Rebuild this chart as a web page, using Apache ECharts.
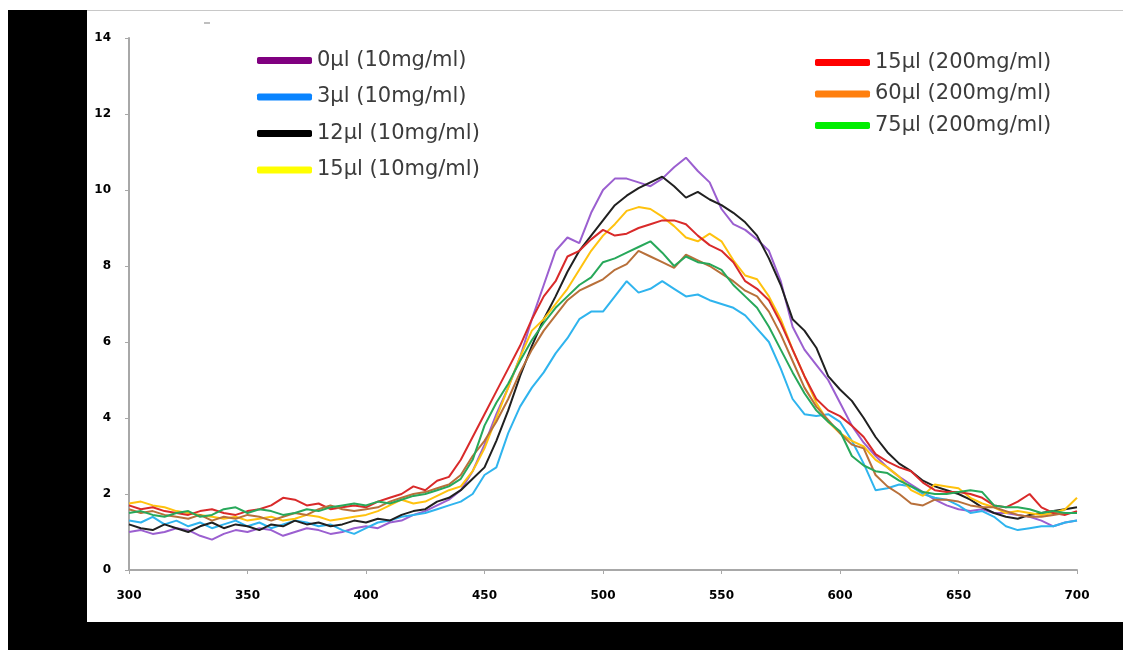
<!DOCTYPE html>
<html>
<head>
<meta charset="utf-8">
<script src="https://cdn.jsdelivr.net/npm/echarts@6/dist/echarts.min.js"></script>
<style>
html,body{margin:0;padding:0;background:#fff;}
#chart{width:1123px;height:650px;}
</style>
</head>
<body>
<div id="chart"></div>
<script>
const wavelengths = [300,305,310,315,320,325,330,335,340,345,350,355,360,365,370,375,380,385,390,395,
400,405,410,415,420,425,430,435,440,445,450,455,460,465,470,475,480,485,490,495,
500,505,510,515,520,525,530,535,540,545,550,555,560,565,570,575,580,585,590,595,
600,605,610,615,620,625,630,635,640,645,650,655,660,665,670,675,680,685,690,695,700];

const xTicks = [300,350,400,450,500,550,600,650,700];
const yTicks = [0,2,4,6,8,10,12,14];

const seriesNames = ['0µl (10mg/ml)','3µl (10mg/ml)','12µl (10mg/ml)','15µl (10mg/ml)','15µl (200mg/ml)','60µl (200mg/ml)','75µl (200mg/ml)'];

const purple0 = [1.0,1.05,0.95,1.0,1.1,1.05,0.9,0.8,0.95,1.05,1.0,1.1,1.05,0.9,1.0,1.1,1.05,0.95,1.0,1.1,
1.15,1.1,1.25,1.3,1.45,1.55,1.7,1.85,2.1,2.6,3.3,4.1,4.8,5.6,6.6,7.5,8.4,8.75,8.6,9.4,
10.0,10.3,10.3,10.2,10.1,10.3,10.6,10.85,10.5,10.2,9.5,9.1,8.95,8.7,8.4,7.6,6.4,5.8,5.4,5.0,
4.4,3.8,3.35,3.0,2.7,2.45,2.25,2.05,1.85,1.7,1.6,1.55,1.6,1.5,1.5,1.45,1.4,1.3,1.15,1.25,1.3];

const blue3 = [1.3,1.25,1.4,1.2,1.3,1.15,1.25,1.1,1.2,1.3,1.15,1.25,1.1,1.2,1.3,1.25,1.15,1.2,1.05,0.95,
1.1,1.25,1.3,1.4,1.45,1.5,1.6,1.7,1.8,2.0,2.5,2.7,3.6,4.3,4.8,5.2,5.7,6.1,6.6,6.8,
6.8,7.2,7.6,7.3,7.4,7.6,7.4,7.2,7.25,7.1,7.0,6.9,6.7,6.35,6.0,5.3,4.5,4.1,4.05,4.1,
3.9,3.4,2.8,2.1,2.15,2.25,2.2,2.0,1.9,1.85,1.7,1.5,1.55,1.4,1.15,1.05,1.1,1.15,1.15,1.25,1.3];

const black12 = [1.2,1.1,1.05,1.2,1.1,1.0,1.15,1.25,1.1,1.2,1.15,1.05,1.2,1.15,1.3,1.2,1.25,1.15,1.2,1.3,
1.25,1.35,1.3,1.45,1.55,1.6,1.8,1.9,2.1,2.4,2.7,3.4,4.2,5.1,5.9,6.6,7.2,7.85,8.4,8.8,
9.2,9.6,9.85,10.05,10.2,10.35,10.1,9.8,9.95,9.75,9.6,9.4,9.15,8.8,8.2,7.5,6.6,6.3,5.85,5.1,
4.75,4.45,4.0,3.5,3.1,2.8,2.6,2.35,2.2,2.1,2.0,1.85,1.65,1.5,1.4,1.35,1.45,1.5,1.55,1.6,1.65];

const yellow15 = [1.75,1.8,1.7,1.65,1.55,1.5,1.45,1.4,1.35,1.4,1.3,1.35,1.4,1.3,1.35,1.45,1.4,1.3,1.35,1.4,
1.45,1.55,1.7,1.85,1.75,1.8,1.95,2.1,2.2,2.6,3.2,4.0,4.8,5.6,6.3,6.6,7.0,7.4,7.9,8.4,
8.8,9.1,9.45,9.55,9.5,9.3,9.05,8.75,8.65,8.85,8.65,8.15,7.75,7.65,7.2,6.6,5.8,5.1,4.4,3.9,
3.6,3.4,3.25,2.9,2.7,2.45,2.1,1.95,2.25,2.2,2.15,1.9,1.75,1.65,1.5,1.55,1.5,1.45,1.5,1.6,1.9];

const red15 = [1.7,1.6,1.65,1.55,1.5,1.45,1.55,1.6,1.5,1.45,1.55,1.6,1.7,1.9,1.85,1.7,1.75,1.6,1.65,1.7,
1.65,1.8,1.9,2.0,2.2,2.1,2.35,2.45,2.9,3.5,4.1,4.7,5.3,5.9,6.6,7.2,7.6,8.25,8.4,8.7,
8.95,8.8,8.85,9.0,9.1,9.2,9.2,9.1,8.8,8.55,8.4,8.1,7.6,7.4,7.1,6.5,5.8,5.1,4.5,4.2,
4.05,3.8,3.5,3.05,2.85,2.7,2.6,2.3,2.1,2.05,2.05,2.0,1.9,1.7,1.65,1.8,2.0,1.65,1.5,1.45,1.55];

const orange60 = [1.6,1.5,1.55,1.45,1.4,1.35,1.45,1.3,1.4,1.35,1.45,1.4,1.3,1.4,1.5,1.45,1.6,1.7,1.6,1.55,
1.6,1.65,1.8,1.9,2.0,2.05,2.15,2.25,2.5,3.0,3.4,3.9,4.5,5.2,5.8,6.3,6.7,7.1,7.35,7.5,
7.65,7.9,8.05,8.4,8.25,8.1,7.95,8.3,8.15,8.0,7.8,7.6,7.35,7.2,6.8,6.2,5.5,4.8,4.3,3.95,
3.6,3.3,3.2,2.5,2.2,2.0,1.75,1.7,1.85,1.85,1.8,1.7,1.65,1.65,1.55,1.45,1.4,1.4,1.45,1.5,1.5];

const green75 = [1.5,1.55,1.45,1.4,1.5,1.55,1.4,1.45,1.6,1.65,1.5,1.6,1.55,1.45,1.5,1.6,1.55,1.65,1.7,1.75,
1.7,1.8,1.75,1.85,1.95,2.0,2.1,2.2,2.4,2.9,3.8,4.4,4.9,5.5,6.05,6.5,6.9,7.2,7.5,7.7,
8.1,8.2,8.35,8.5,8.65,8.35,8.0,8.25,8.1,8.05,7.9,7.5,7.2,6.9,6.4,5.8,5.2,4.65,4.2,3.9,
3.65,3.0,2.75,2.6,2.55,2.35,2.2,2.05,2.0,2.0,2.05,2.1,2.05,1.7,1.65,1.65,1.6,1.5,1.55,1.5,1.5];

const seriesValues = [purple0, blue3, black12, yellow15, red15, orange60, green75];
const lineColors = ['#9b5fd0','#2fb4ee','#202020','#ffc20e','#d92a2a','#b8703a','#27a85a'];
const legendColors = ['#800080','#0a84ff','#000000','#ffff00','#ff0000','#ff7f0e','#00ee00'];

const chart = echarts.init(document.getElementById('chart'), null, {renderer:'canvas'});

const series = seriesNames.map((name, i) => ({
  name: name,
  type: 'line',
  data: wavelengths.map((w, j) => [w, seriesValues[i][j]]),
  showSymbol: false,
  symbol: 'none',
  smooth: false,
  lineStyle: {width: 2, color: lineColors[i]},
  itemStyle: {color: lineColors[i]},
  z: 2
}));

const legendItem = (i) => ({name: seriesNames[i], icon: 'roundRect', itemStyle: {color: legendColors[i], borderWidth: 0}});

const option = {
  backgroundColor: '#ffffff',
  animation: false,
  graphic: [
    {type:'rect', z:-10, silent:true, shape:{x:8,y:10,width:79,height:640}, style:{fill:'#000'}},
    {type:'rect', z:-10, silent:true, shape:{x:8,y:622,width:1115,height:28}, style:{fill:'#000'}},
    {type:'line', z:-10, silent:true, shape:{x1:87,y1:10.5,x2:1123,y2:10.5}, style:{stroke:'#c8c8c8', lineWidth:1}},
    {type:'line', z:-10, silent:true, shape:{x1:204,y1:23,x2:210,y2:23}, style:{stroke:'#aaa', lineWidth:1.5}}
  ],
  legend: [
    {
      orient: 'vertical', left: 257, top: 50, padding: 0,
      itemWidth: 55, itemHeight: 7, itemGap: 15.5,
      textStyle: {fontFamily: 'DejaVu Sans', fontSize: 21, color: '#3c3c3c'},
      data: [0,1,2,3].map(legendItem)
    },
    {
      orient: 'vertical', left: 815, top: 52, padding: 0,
      itemWidth: 55, itemHeight: 7, itemGap: 10.5,
      textStyle: {fontFamily: 'DejaVu Sans', fontSize: 21, color: '#3c3c3c'},
      data: [4,5,6].map(legendItem)
    }
  ],
  grid: {left: 129, right: 46, top: 38, bottom: 80, containLabel: false},
  xAxis: {
    type: 'value', min: xTicks[0], max: xTicks[xTicks.length-1], interval: 50,
    axisLine: {show: true, lineStyle: {color: '#a8a8a8', width: 2}},
    axisTick: {show: true, length: 4, lineStyle: {color: '#a8a8a8', width: 1}},
    axisLabel: {margin: 20, fontFamily: 'DejaVu Sans', fontWeight: 'bold', fontSize: 12, color: '#000'},
    splitLine: {show: false}
  },
  yAxis: {
    type: 'value', min: yTicks[0], max: yTicks[yTicks.length-1], interval: 2,
    axisLine: {show: true, lineStyle: {color: '#a8a8a8', width: 2}},
    axisTick: {show: true, length: 4, lineStyle: {color: '#a8a8a8', width: 1}},
    axisLabel: {margin: 18, fontFamily: 'DejaVu Sans', fontWeight: 'bold', fontSize: 12, color: '#000'},
    splitLine: {show: false}
  },
  series: series
};
chart.setOption(option);
</script>
</body>
</html>
